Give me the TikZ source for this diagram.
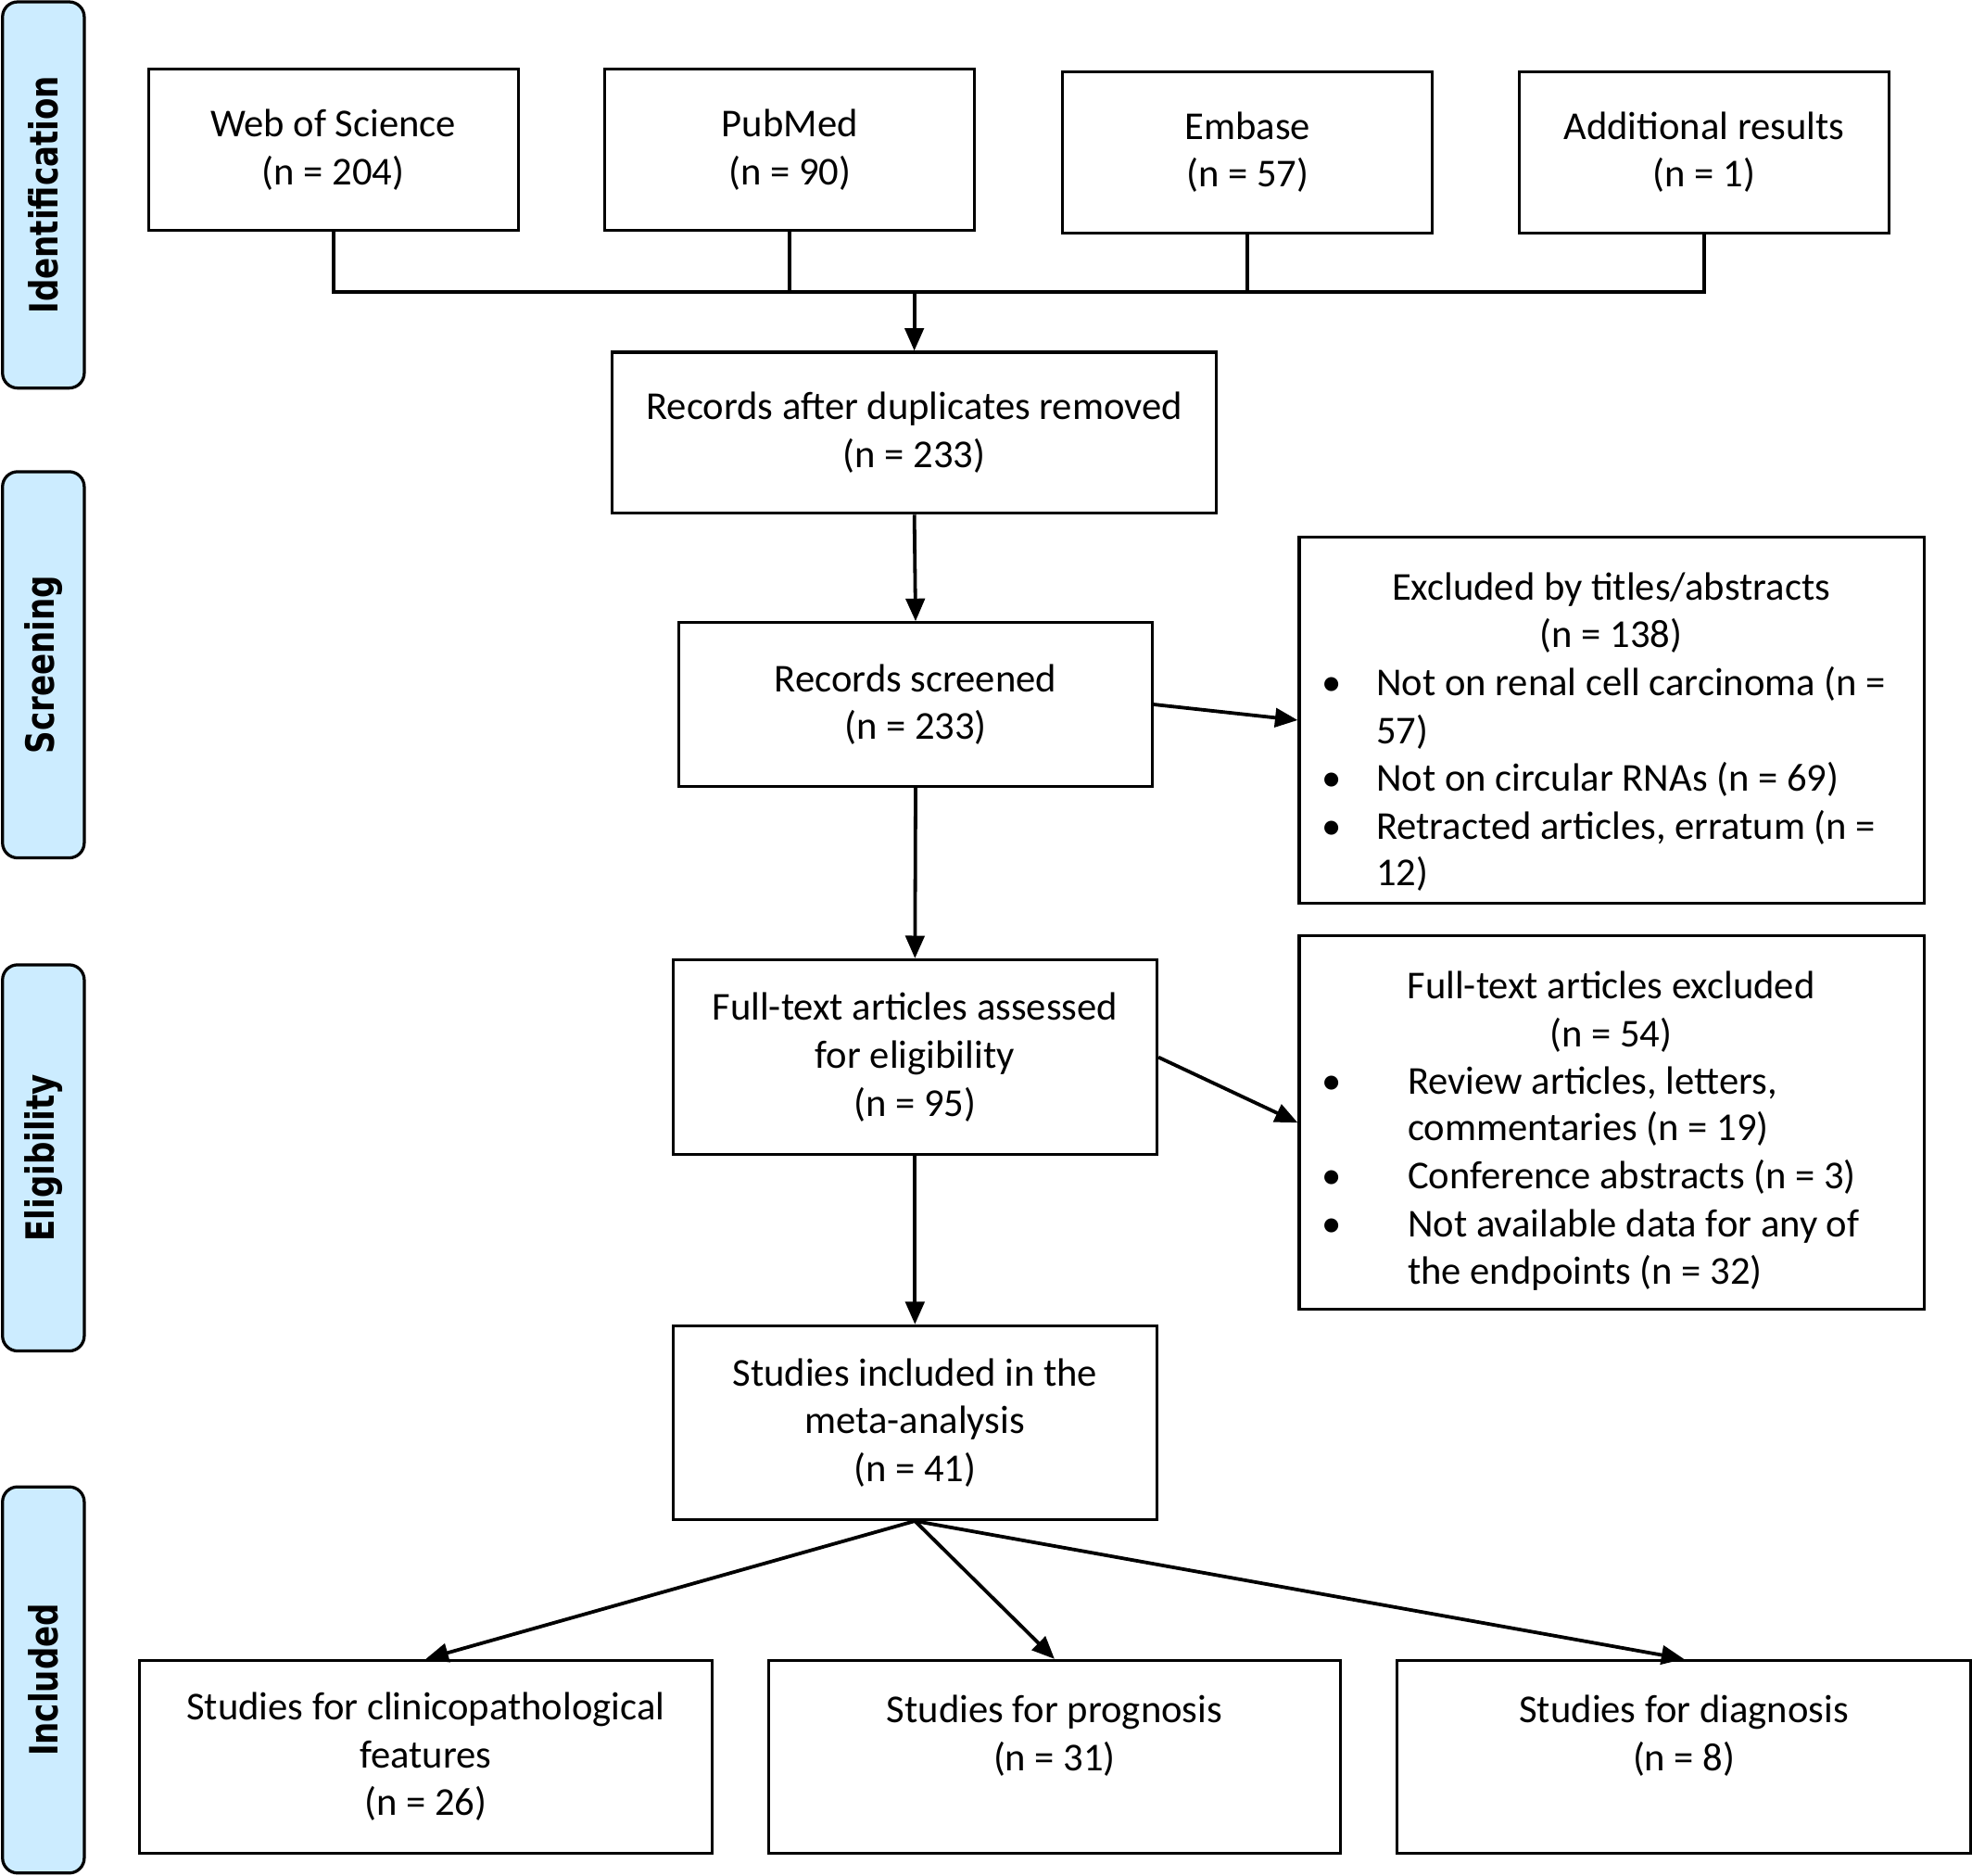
\documentclass[tikz,border=0pt]{standalone}
\usepackage{fontspec}
\usepackage{graphicx}
\setmainfont{Carlito}
\newfontfamily\barfont{DejaVu Sans}
\usetikzlibrary{arrows.meta}
\definecolor{barblue}{HTML}{CCECFF}
\newcommand\mainfs{\fontsize{15.7pt}{19pt}\selectfont}
\newcommand\barfs{\barfont\bfseries\fontsize{15.5pt}{18pt}\selectfont}
\begin{document}
\begin{tikzpicture}[x=0.5pt,y=-0.5pt,
  pbox/.style 2 args={draw, line width=1.15pt, inner sep=0pt, align=center, font=\mainfs,
     minimum width=#1*0.5pt, minimum height=#2*0.5pt},
  lnc/.style={anchor=base, inner sep=0pt, font=\mainfs},
  lnl/.style={anchor=base west, inner sep=0pt, font=\mainfs},
  bul/.style={anchor=base, inner sep=0pt, font=\mainfs},
  conn/.style={line width=1.4pt},
  arr/.style={line width=1.4pt, -{Triangle[length=9pt,width=7.5pt]}},
  bar/.style={draw, line width=1.2pt, fill=barblue, rounded corners=6pt, rotate=90,
     minimum width=307*0.5pt, minimum height=65*0.5pt, inner sep=0pt, font=\barfs}]
\useasboundingbox (0,0) rectangle (1568,1491);

% phase bars
\node[bar] (bid) at (34.5,155) {\scalebox{0.81}[1]{Identification}};
\node[bar] (bsc) at (34.5,528.5) {\scalebox{0.81}[1]{Screening}};
\node[bar] (bel) at (34.5,920.5) {\scalebox{0.81}[1]{Eligibility}};
\node[bar] (bin) at (34.5,1335.5) {\scalebox{0.81}[1]{Included}};

% identification
\node[pbox={294}{128}] (wos) at (265,119) {Web of Science\\(n = 204)};
\node[pbox={294}{128}] (pub) at (628,119) {PubMed\\(n = 90)};
\node[pbox={294}{128}] (emb) at (992,121) {Embase\\(n = 57)};
\node[pbox={294}{128}] (add) at (1355,121) {Additional results\\(n = 1)};

\node[pbox={480}{128}] (rec) at (727,344) {Records after duplicates removed\\(n = 233)};
\node[pbox={376}{130}] (scr) at (728,560) {Records screened\\(n = 233)};
\node[pbox={497}{291}] (exa) at (1281.5,572.5) {};
\node[pbox={385}{155}] (full) at (727.5,840.5) {Full-text articles assessed\\for eligibility\\(n = 95)};
\node[pbox={497}{297}] (exb) at (1281.5,892.5) {};
\node[pbox={385}{154}] (inc) at (727.5,1131) {Studies included in the\\meta-analysis\\(n = 41)};
\node[pbox={455}{153}] (cp) at (338.5,1396.5) {Studies for clinicopathological\\features\\(n = 26)};
\node[pbox={455}{153}] (pro) at (838.5,1396.5) {Studies for prognosis\\(n = 31)\\\mbox{}};
\node[pbox={456}{153}] (dia) at (1339,1396.5) {Studies for diagnosis\\(n = 8)\\\mbox{}};

% exclusion box 1 text
\node[lnc] (exa1) at (1281,477) {Excluded by titles/abstracts};
\node[lnc] (exa2) at (1281,515) {(n = 138)};
\node[bul] (exab1) at (1059,553) {•};
\node[lnl] (exa3) at (1094,553) {Not on renal cell carcinoma (n =};
\node[lnl] (exa4) at (1094,591) {57)};
\node[bul] (exab2) at (1059,629) {•};
\node[lnl] (exa5) at (1094,629) {Not on circular RNAs (n = 69)};
\node[bul] (exab3) at (1059,667) {•};
\node[lnl] (exa6) at (1094,667) {Retracted articles, erratum (n =};
\node[lnl] (exa7) at (1094,704) {12)};

% exclusion box 2 text
\node[lnc] (exb1) at (1281,794) {Full-text articles excluded};
\node[lnc] (exb2) at (1281,832) {(n = 54)};
\node[bul] (exbb1) at (1059,870) {•};
\node[lnl] (exb3) at (1119,870) {Review articles, letters,};
\node[lnl] (exb4) at (1119,907) {commentaries (n = 19)};
\node[bul] (exbb2) at (1059,945) {•};
\node[lnl] (exb5) at (1119,945) {Conference abstracts (n = 3)};
\node[bul] (exbb3) at (1059,983) {•};
\node[lnl] (exb6) at (1119,983) {Not available data for any of};
\node[lnl] (exb7) at (1119,1021) {the endpoints (n = 32)};

% connectors
\coordinate (jn) at (727,232);
\draw[conn] (wos.south) -- (wos.south |- jn) -- (add.south |- jn) -- (add.south);
\draw[conn] (pub.south) -- (pub.south |- jn);
\draw[conn] (emb.south) -- (emb.south |- jn);
\draw[arr] (jn) -- (rec.north);
\draw[arr] (rec.south) -- (scr.north);
\draw[arr] (scr.east) -- (exa.west);
\draw[arr] (scr.south) -- (full.north);
\draw[arr] (full.east) -- (exb.west);
\draw[arr] (full.south) -- (inc.north);
\draw[arr] (inc.south) -- (cp.north);
\draw[arr] (inc.south) -- (pro.north);
\draw[arr] (inc.south) -- (dia.north);
\end{tikzpicture}
\end{document}
